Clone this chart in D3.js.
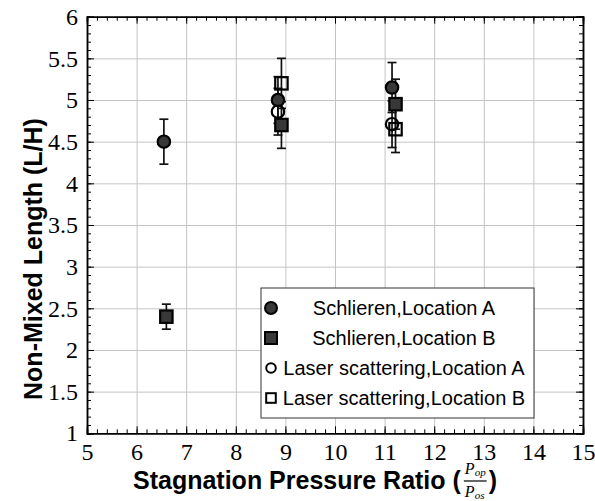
<!DOCTYPE html>
<html>
<head>
<meta charset="utf-8">
<script src="https://cdn.jsdelivr.net/npm/d3@7"></script>
<style>
  body { margin: 0; background: #fff; }
  svg text { fill: #000; }
  .grid line { stroke: #c4c4c4; stroke-width: 1; }
  .grid path { display: none; }
  .axis path { stroke: #000; stroke-width: 1.5; }
  .axis line { stroke: #000; stroke-width: 1; }
  .axis text { font-family: "Liberation Serif", serif; font-size: 24px; }
  .axis-label { font-family: "Liberation Sans", Arial, sans-serif; font-weight: bold; font-size: 25px; }
  .legend text { font-family: "Liberation Sans", Arial, sans-serif; font-size: 20px; }
</style>
</head>
<body>
<svg width="595" height="501"></svg>
<script>
// data
const schlierenA_x = [6.55, 8.85, 11.15];
const schlierenA_y = [4.5, 5.0, 5.15];
const schlierenA_err = [0.27, 0.28, 0.3];

const schlierenB_x = [6.6, 8.92, 11.22];
const schlierenB_y = [2.4, 4.7, 4.95];
const schlierenB_err = [0.15, 0.28, 0.3];

const laserA_x = [8.85, 11.15];
const laserA_y = [4.86, 4.71];
const laserA_err = [0.28, 0.28];

const laserB_x = [8.92, 11.22];
const laserB_y = [5.2, 4.65];
const laserB_err = [0.3, 0.28];

const xTicks = [5, 6, 7, 8, 9, 10, 11, 12, 13, 14, 15];
const yTicks = [1, 1.5, 2, 2.5, 3, 3.5, 4, 4.5, 5, 5.5, 6];

const legendLabels = ['Schlieren,Location A', 'Schlieren,Location B',
                      'Laser scattering,Location A', 'Laser scattering,Location B'];

const margin = {top: 16.7, right: 12, bottom: 67.7, left: 87};
const width = 595 - margin.left - margin.right;
const height = 501 - margin.top - margin.bottom;

const svg = d3.select('svg').append('g')
  .attr('transform', 'translate(' + margin.left + ',' + margin.top + ')');

const x = d3.scaleLinear().domain([5, 15]).range([0, width]);
const y = d3.scaleLinear().domain([1, 6]).range([height, 0]);

// grid
svg.append('g').attr('class', 'grid')
  .call(d3.axisBottom(x).tickValues(xTicks.slice(1, -1)).tickSize(height).tickFormat(''));
svg.append('g').attr('class', 'grid')
  .call(d3.axisLeft(y).tickValues(yTicks.slice(1, -1)).tickSize(-width).tickFormat(''));

// minor ticks, all four sides, pointing inward
const xMinor = d3.range(5, 15.001, 0.2);
const yMinor = d3.range(1, 6.001, 0.1);
const minor = (axis) => axis.tickSize(-4).tickFormat('');
svg.append('g').attr('class', 'axis').attr('transform', 'translate(0,' + height + ')')
  .call(minor(d3.axisBottom(x).tickValues(xMinor)));
svg.append('g').attr('class', 'axis')
  .call(minor(d3.axisTop(x).tickValues(xMinor)));
svg.append('g').attr('class', 'axis')
  .call(minor(d3.axisLeft(y).tickValues(yMinor)));
svg.append('g').attr('class', 'axis').attr('transform', 'translate(' + width + ',0)')
  .call(minor(d3.axisRight(y).tickValues(yMinor)));

// major ticks + labels
svg.append('g').attr('class', 'axis').attr('transform', 'translate(0,' + height + ')')
  .call(d3.axisBottom(x).tickValues(xTicks).tickSize(-7).tickPadding(10).tickFormat(d3.format('d')));
svg.append('g').attr('class', 'axis')
  .call(d3.axisLeft(y).tickValues(yTicks).tickSize(-7).tickPadding(9).tickFormat(d3.format('')));
svg.append('g').attr('class', 'axis')
  .call(d3.axisTop(x).tickValues(xTicks).tickSize(-7).tickFormat(''));
svg.append('g').attr('class', 'axis').attr('transform', 'translate(' + width + ',0)')
  .call(d3.axisRight(y).tickValues(yTicks).tickSize(-7).tickFormat(''));

// error bars
const series = [
  {xs: schlierenA_x, ys: schlierenA_y, err: schlierenA_err, shape: 'circle', filled: true},
  {xs: schlierenB_x, ys: schlierenB_y, err: schlierenB_err, shape: 'square', filled: true},
  {xs: laserA_x, ys: laserA_y, err: laserA_err, shape: 'circle', filled: false},
  {xs: laserB_x, ys: laserB_y, err: laserB_err, shape: 'square', filled: false}
];
series.forEach((s) => {
  s.data = s.xs.map((v, i) => ({x: v, y: s.ys[i], e: s.err[i]}));
});

const eb = svg.append('g').attr('class', 'errorbars');
series.forEach((s) => {
  const g = eb.selectAll(null).data(s.data).enter().append('g')
    .attr('stroke', '#111').attr('stroke-width', 1.7);
  g.append('line').attr('x1', d => x(d.x)).attr('x2', d => x(d.x))
    .attr('y1', d => y(d.y - d.e)).attr('y2', d => y(d.y + d.e));
  g.append('line').attr('x1', d => x(d.x) - 4.5).attr('x2', d => x(d.x) + 4.5)
    .attr('y1', d => y(d.y + d.e)).attr('y2', d => y(d.y + d.e));
  g.append('line').attr('x1', d => x(d.x) - 4.5).attr('x2', d => x(d.x) + 4.5)
    .attr('y1', d => y(d.y - d.e)).attr('y2', d => y(d.y - d.e));
});

const R = 6.2;
function drawMarker(sel, shape, filled) {
  const fill = filled ? '#383838' : 'none';
  if (shape === 'circle') {
    sel.append('circle').attr('cx', d => x(d.x)).attr('cy', d => y(d.y)).attr('r', R)
      .attr('fill', fill).attr('stroke', '#000').attr('stroke-width', 2.2);
  } else {
    sel.append('rect').attr('x', d => x(d.x) - R).attr('y', d => y(d.y) - R)
      .attr('width', 2 * R).attr('height', 2 * R)
      .attr('fill', fill).attr('stroke', '#000').attr('stroke-width', 2.2);
  }
}

const marks = svg.append('g').attr('class', 'markers');
series.filter(s => s.filled).concat(series.filter(s => !s.filled)).forEach((s) => {
  const g = marks.selectAll(null).data(s.data).enter().append('g');
  drawMarker(g, s.shape, s.filled);
});

// legend
const lg = svg.append('g').attr('class', 'legend')
  .attr('transform', 'translate(' + (261 - margin.left) + ',' + (288 - margin.top) + ')');
lg.append('rect').attr('width', 273).attr('height', 130)
  .attr('fill', '#fff').attr('stroke', '#333').attr('stroke-width', 1);
series.forEach((s, i) => {
  const row = lg.append('g').attr('transform', 'translate(0,' + (20 + i * 30) + ')');
  const h = s.filled ? 6 : 4.8;
  if (s.shape === 'circle') {
    row.append('circle').attr('cx', 10).attr('cy', 0).attr('r', h)
      .attr('fill', s.filled ? '#383838' : '#fff').attr('stroke', '#000').attr('stroke-width', 2);
  } else {
    row.append('rect').attr('x', 10 - h).attr('y', -h).attr('width', 2 * h).attr('height', 2 * h)
      .attr('fill', s.filled ? '#383838' : '#fff').attr('stroke', '#000').attr('stroke-width', 2);
  }
  row.append('text').attr('x', 143).attr('y', 0).attr('dy', '0.35em')
    .attr('text-anchor', 'middle').text(legendLabels[i]);
});

// axis labels
const root = d3.select('svg');
root.append('text').attr('class', 'axis-label')
  .attr('transform', 'translate(42,259) rotate(-90)')
  .attr('text-anchor', 'middle').text('Non-Mixed Length (L/H)');

const xl = root.append('text').attr('class', 'axis-label')
  .attr('x', 133).attr('y', 489).text('Stagnation Pressure Ratio (');
const xlw = xl.node().getComputedTextLength();
const fx = 133 + xlw + 3;
const frac = root.append('g').attr('font-family', '"Liberation Serif", serif')
  .attr('font-style', 'italic');
const num = frac.append('text').attr('x', fx + 1).attr('y', 474).attr('font-size', 16);
num.append('tspan').text('P');
num.append('tspan').attr('font-size', 11).attr('dy', 2).text('op');
const den = frac.append('text').attr('x', fx + 1).attr('y', 497).attr('font-size', 16);
den.append('tspan').text('P');
den.append('tspan').attr('font-size', 11).attr('dy', 2).text('os');
const fw = Math.max(num.node().getComputedTextLength(), den.node().getComputedTextLength()) + 2;
frac.append('line').attr('x1', fx).attr('x2', fx + fw).attr('y1', 481).attr('y2', 481)
  .attr('stroke', '#000').attr('stroke-width', 1.2);
root.append('text').attr('class', 'axis-label').attr('x', fx + fw + 2).attr('y', 489).text(')');
</script>
</body>
</html>
